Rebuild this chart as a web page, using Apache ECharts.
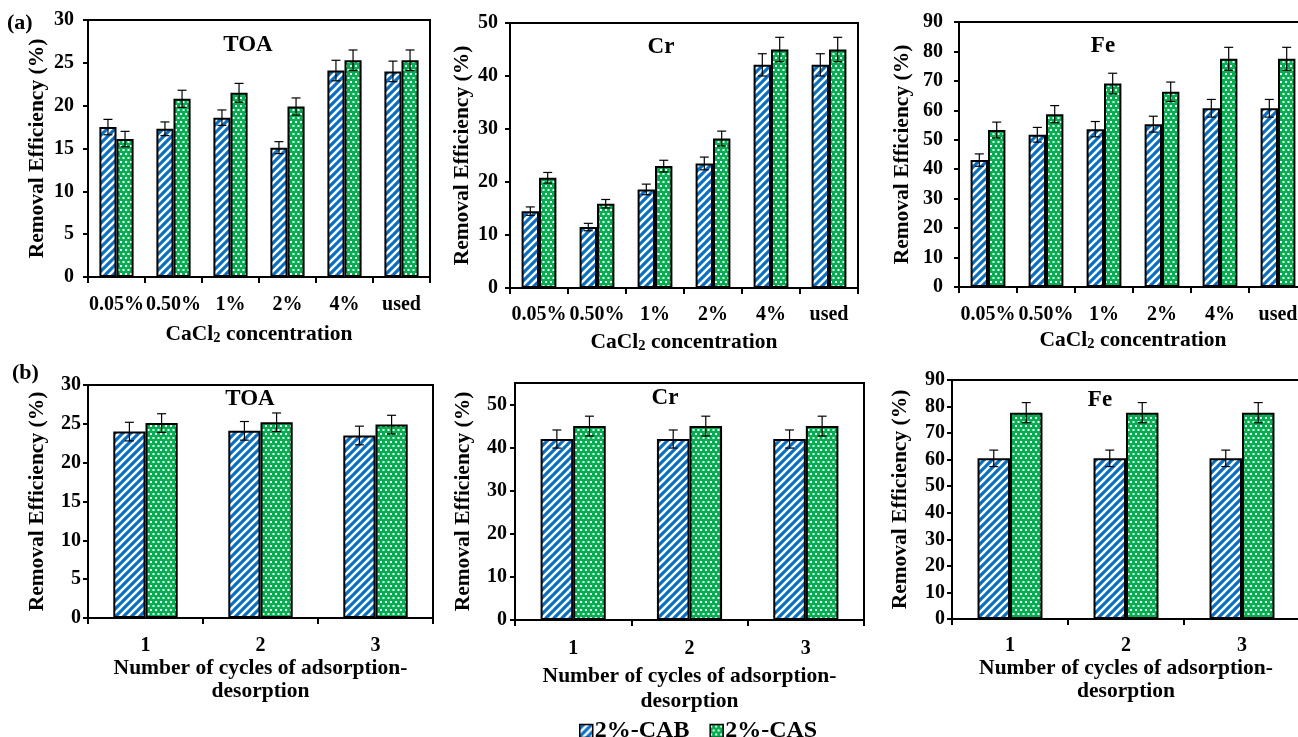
<!DOCTYPE html>
<html><head><meta charset="utf-8">
<script src="https://cdn.jsdelivr.net/npm/echarts@6/dist/echarts.min.js"></script>
<style>html,body{margin:0;padding:0;background:#fff}#c{width:1298px;height:737px}</style>
</head><body><div id="c"></div>
<script>
// ---------- DATA ----------
const concCategories = ['0.05%', '0.50%', '1%', '2%', '4%', 'used'];
const cycleCategories = ['1', '2', '3'];
const seriesNames = ['2%-CAB', '2%-CAS'];

const toaConcCAB = [17.5, 17.3, 18.6, 15.1, 24.1, 24.0];
const toaConcCAS = [16.1, 20.8, 21.5, 19.9, 25.3, 25.3];
const toaConcCABErr = [0.9, 0.8, 0.9, 0.7, 1.2, 1.2];
const toaConcCASErr = [0.9, 1.0, 1.1, 1.0, 1.2, 1.2];

const crConcCAB = [14.5, 11.5, 18.6, 23.5, 42.1, 42.1];
const crConcCAS = [20.8, 15.9, 23.0, 28.2, 45.0, 45.0];
const crConcCABErr = [0.8, 0.7, 1.0, 1.2, 2.1, 2.1];
const crConcCASErr = [1.0, 0.8, 1.1, 1.4, 2.3, 2.3];

const feConcCAB = [43.1, 51.7, 53.6, 55.3, 60.7, 60.7];
const feConcCAS = [53.3, 58.7, 69.1, 66.3, 77.5, 77.5];
const feConcCABErr = [2.1, 2.5, 2.6, 2.7, 3.0, 3.0];
const feConcCASErr = [2.7, 2.9, 3.5, 3.3, 3.9, 3.9];

const toaCycCAB = [24.0, 24.1, 23.5];
const toaCycCAS = [25.1, 25.2, 24.9];
const toaCycCABErr = [1.2, 1.2, 1.2];
const toaCycCASErr = [1.2, 1.2, 1.2];

const crCycCAB = [42.0, 42.0, 42.0];
const crCycCAS = [45.0, 45.0, 45.0];
const crCycCABErr = [2.1, 2.1, 2.1];
const crCycCASErr = [2.3, 2.3, 2.3];

const feCycCAB = [60.5, 60.5, 60.5];
const feCycCAS = [77.7, 77.7, 77.7];
const feCycCABErr = [3.1, 3.1, 3.1];
const feCycCASErr = [3.8, 3.8, 3.8];

const panelTitles = ['TOA', 'Cr', 'Fe', 'TOA', 'Cr', 'Fe'];
const panelLetters = ['(a)', '(b)'];
const yAxisTitle = 'Removal Efficiency (%)';
const xTitleConc = 'CaCl{sub|2} concentration';
const xTitleCycle = 'Number of cycles of adsorption-\ndesorption';

// ---------- STYLE ----------
const FONT = 'Liberation Serif';
const BLUE = '#0a6fc2';
const GREEN = '#00b050';

function stripePattern() {
  const c = document.createElement('canvas');
  c.width = 8; c.height = 8;
  const g = c.getContext('2d');
  g.fillStyle = BLUE; g.fillRect(0, 0, 8, 8);
  g.strokeStyle = '#fff'; g.lineWidth = 2.4;
  [[-8, 8, 8, -8], [0, 8, 8, 0], [0, 16, 16, 0]].forEach(function (s) {
    g.beginPath(); g.moveTo(s[0], s[1]); g.lineTo(s[2], s[3]); g.stroke();
  });
  return c;
}
function dotPattern() {
  const c = document.createElement('canvas');
  c.width = 5; c.height = 8;
  const g = c.getContext('2d');
  g.fillStyle = GREEN; g.fillRect(0, 0, 5, 8);
  g.fillStyle = '#fff';
  g.fillRect(0, 1, 2, 2);
  g.fillRect(2.5, 5, 2, 2);
  return c;
}
const blueFill = { image: stripePattern(), repeat: 'repeat' };
const greenFill = { image: dotPattern(), repeat: 'repeat' };

const panels = [
  { grid: { left: 88, top: 20, width: 342, height: 257 }, cats: concCategories, cab: toaConcCAB, cas: toaConcCAS, cabErr: toaConcCABErr, casErr: toaConcCASErr, max: 30, interval: 5, tPos: [248, 46], xName: xTitleConc, xGap: 45, yGap: 40, yMargin: 14, xMargin: 18, gap: 0.40, lh: 24 },
  { grid: { left: 510, top: 23, width: 348, height: 265 }, cats: concCategories, cab: crConcCAB, cas: crConcCAS, cabErr: crConcCABErr, casErr: crConcCASErr, max: 50, interval: 10, tPos: [661, 48], xName: xTitleConc, xGap: 42, yGap: 37, yMargin: 12, xMargin: 17, gap: 0.40, lh: 24 },
  { grid: { left: 959, top: 22, width: 348, height: 265 }, cats: concCategories, cab: feConcCAB, cas: feConcCAS, cabErr: feConcCABErr, casErr: feConcCASErr, max: 90, interval: 10, tPos: [1103, 47], xName: xTitleConc, xGap: 41, yGap: 46, yMargin: 16, xMargin: 18, gap: 0.40, lh: 24 },
  { grid: { left: 88, top: 385, width: 345, height: 233 }, cats: cycleCategories, cab: toaCycCAB, cas: toaCycCAS, cabErr: toaCycCABErr, casErr: toaCycCASErr, max: 30, interval: 5, tPos: [250, 400], xName: xTitleCycle, xGap: 37, yGap: 40, yMargin: 7, xMargin: 18, gap: 0.44, lh: 23 },
  { grid: { left: 515, top: 383, width: 349, height: 237 }, cats: cycleCategories, cab: crCycCAB, cas: crCycCAS, cabErr: crCycCABErr, casErr: crCycCASErr, max: 55, interval: 10, tPos: [665, 399], xName: xTitleCycle, xGap: 44, yGap: 41, yMargin: 8, xMargin: 19, gap: 0.44, lh: 25 },
  { grid: { left: 952, top: 380, width: 348, height: 239 }, cats: cycleCategories, cab: feCycCAB, cas: feCycCAS, cabErr: feCycCABErr, casErr: feCycCASErr, max: 90, interval: 10, tPos: [1100, 401], xName: xTitleCycle, xGap: 36, yGap: 41, yMargin: 7, xMargin: 17, gap: 0.44, lh: 23 }
];

const txt = { fontFamily: FONT, fontWeight: 'bold', color: '#000' };
const grids = [], xAxes = [], yAxes = [], series = [], titles = [];

panels.forEach(function (p, i) {
  grids.push(Object.assign({ show: true, borderColor: '#000', borderWidth: 2, backgroundColor: 'transparent', containLabel: false, outerBoundsMode: 'none' }, p.grid));
  xAxes.push({
    type: 'category', gridIndex: i, data: p.cats,
    axisLine: { show: true, lineStyle: { color: '#000', width: 2 } },
    axisTick: { show: true, alignWithLabel: false, length: 6, lineStyle: { color: '#000', width: 2 } },
    axisLabel: Object.assign({ fontSize: 20, margin: p.xMargin, interval: 0 }, txt),
    splitLine: { show: false },
    name: p.xName, nameLocation: 'middle', nameGap: p.xGap,
    nameTextStyle: Object.assign({ fontSize: 21.5, lineHeight: p.lh, align: 'center',
      rich: { sub: { fontSize: 14.5, fontFamily: FONT, fontWeight: 'bold', color: '#000', padding: [9, 0, 0, 0] } } }, txt)
  });
  yAxes.push({
    type: 'value', gridIndex: i, min: 0, max: p.max, interval: p.interval,
    axisLine: { show: true, lineStyle: { color: '#000', width: 2 } },
    axisTick: { show: true, inside: false, length: 5, lineStyle: { color: '#000', width: 2 } },
    axisLabel: Object.assign({ fontSize: 20, margin: p.yMargin, showMaxLabel: p.max % p.interval === 0 }, txt),
    splitLine: { show: false },
    name: yAxisTitle, nameLocation: 'middle', nameGap: p.yGap,
    nameTextStyle: Object.assign({ fontSize: 21.5 }, txt)
  });
  const barCommon = { type: 'bar', xAxisIndex: i, yAxisIndex: i, barGap: '0%', barCategoryGap: Math.round(p.gap * 100) + '%' };
  series.push(Object.assign({ name: seriesNames[0], data: p.cab, itemStyle: { color: blueFill, borderColor: '#000', borderWidth: 2 } }, barCommon));
  series.push(Object.assign({ name: seriesNames[1], data: p.cas, itemStyle: { color: greenFill, borderColor: '#000', borderWidth: 2 } }, barCommon));
  [[p.cab, p.cabErr, -1], [p.cas, p.casErr, 1]].forEach(function (set) {
    const side = set[2];
    series.push({
      type: 'custom', xAxisIndex: i, yAxisIndex: i, z: 5, silent: true,
      data: set[0].map(function (v, k) { return [k, v, set[1][k]]; }),
      encode: { x: 0, y: 1 },
      renderItem: function (params, api) {
        const k = api.value(0), v = api.value(1), e = api.value(2);
        const band = api.size([1, 0])[0];
        const bw = band * (1 - p.gap) / 2;
        const hi = api.coord([k, v + e]), lo = api.coord([k, v - e]);
        const x = hi[0] + side * bw / 2;
        const cap = 4.5;
        const st = { stroke: '#000', lineWidth: 1.2 };
        return { type: 'group', children: [
          { type: 'line', shape: { x1: x, y1: hi[1], x2: x, y2: lo[1] }, style: st },
          { type: 'line', shape: { x1: x - cap, y1: hi[1], x2: x + cap, y2: hi[1] }, style: st },
          { type: 'line', shape: { x1: x - cap, y1: lo[1], x2: x + cap, y2: lo[1] }, style: st }
        ] };
      }
    });
  });
  titles.push({ text: panelTitles[i], left: p.tPos[0], top: p.tPos[1] - 12, textAlign: 'center', padding: 0,
    textStyle: Object.assign({ fontSize: 23 }, txt) });
});
titles.push({ text: panelLetters[0], left: 7, top: 12, padding: 0, textStyle: Object.assign({ fontSize: 22 }, txt) });
titles.push({ text: panelLetters[1], left: 12, top: 362, padding: 0, textStyle: Object.assign({ fontSize: 22 }, txt) });

const chart = echarts.init(document.getElementById('c'), null, { renderer: 'canvas' });
chart.setOption({
  backgroundColor: '#fff',
  animation: false,
  title: titles,
  grid: grids,
  xAxis: xAxes,
  yAxis: yAxes,
  legend: {
    data: seriesNames, left: 579, top: 719, orient: 'horizontal',
    icon: 'rect', itemWidth: 13, itemHeight: 13, itemGap: 20, padding: 0,
    textStyle: Object.assign({ fontSize: 24, padding: [0, 0, 0, -3] }, txt),
    itemStyle: { borderColor: '#000', borderWidth: 1.5 }
  },
  series: series
});
</script>
</body></html>
